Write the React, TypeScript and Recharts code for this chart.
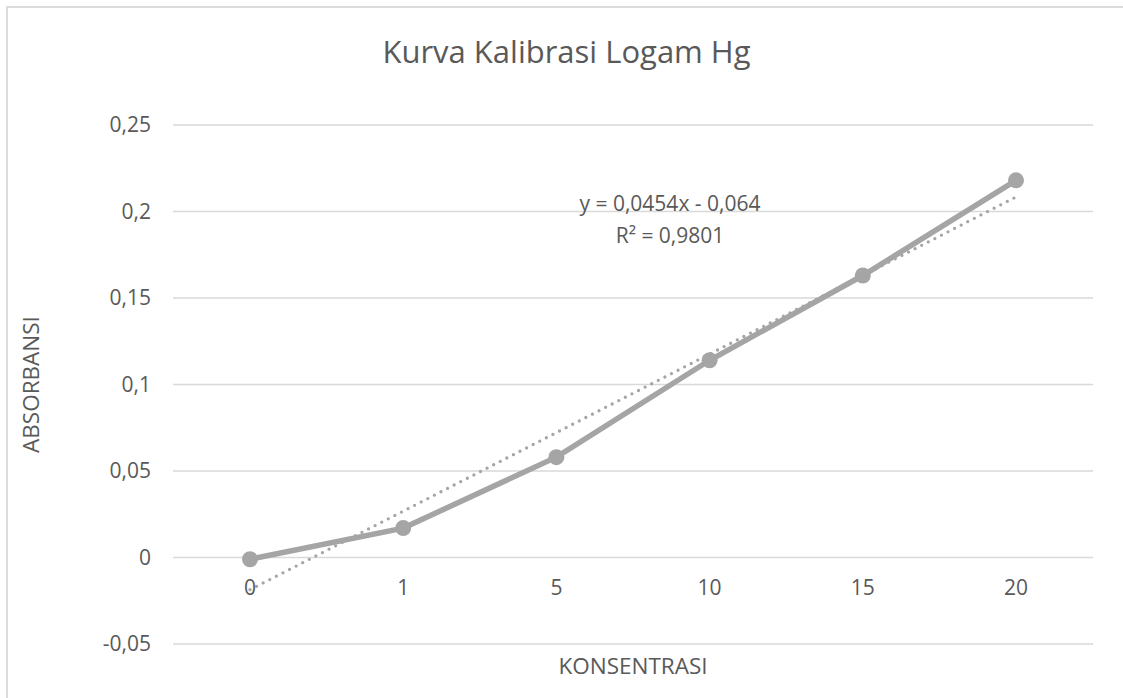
import React from "react";
import { ComposedChart, Line, XAxis, YAxis, CartesianGrid, Label } from "recharts";

const concentrations = ["0", "1", "5", "10", "15", "20"];
const absorbance = [-0.001, 0.017, 0.058, 0.114, 0.163, 0.218];
// linear trendline y = 0,0454x - 0,064 read at each category
const trendline = [-0.0186, 0.0268, 0.0722, 0.1176, 0.163, 0.2084];
const yTicks = [-0.05, 0, 0.05, 0.1, 0.15, 0.2, 0.25];

const data = concentrations.map((c, i) => ({ c, abs: absorbance[i], trend: trendline[i] }));

const FONT = "'Open Sans', sans-serif";
const TEXT = "#595959";
const GREY = "#a5a5a5";

const fmt = (v: number) => String(v).replace(".", ",");

function CategoryTick({ x, y, payload }: { x?: number; y?: number; payload?: { value: string } }) {
  // Excel draws the category labels next to the zero line, not at the bottom
  return (
    <text x={x} y={(y ?? 0) - 63} textAnchor="middle" dominantBaseline="middle" fill={TEXT} fontSize={21} fontFamily={FONT}>
      {payload?.value}
    </text>
  );
}

export default function App() {
  return (
    <div style={{ position: "absolute", left: 0, top: 0, width: 1123, height: 698, overflow: "hidden", background: "#fff", fontFamily: FONT }}>
      <div style={{ position: "absolute", left: 6, top: 6, right: 0, bottom: 0, borderTop: "2px solid #dcdcdc", borderLeft: "2px solid #dcdcdc" }} />
      <div style={{ position: "absolute", left: 10, width: 1113, top: 31, textAlign: "center", fontSize: 31, color: TEXT, lineHeight: "40px" }}>
        Kurva Kalibrasi Logam Hg
      </div>
      <ComposedChart width={1123} height={698} data={data} margin={{ top: 125, right: 30, bottom: 0, left: 8 }}>
        <CartesianGrid vertical={false} stroke="#d9d9d9" strokeWidth={1.5} />
        <XAxis dataKey="c" type="category" axisLine={false} tickLine={false} height={54} padding={{ left: 77, right: 77 }} tick={<CategoryTick />}>
          <Label value="KONSENTRASI" position="insideBottom" offset={24} fill={TEXT} fontSize={22.5} fontFamily={FONT} />
        </XAxis>
        <YAxis
          domain={[-0.05, 0.25]}
          ticks={yTicks}
          width={165}
          axisLine={false}
          tickLine={false}
          tickSize={0}
          tickMargin={22}
          tickFormatter={fmt}
          tick={{ fill: TEXT, fontSize: 21, fontFamily: FONT }}
        >
          <Label value="ABSORBANSI" angle={-90} position="insideLeft" offset={23} fill={TEXT} fontSize={22.5} fontFamily={FONT} style={{ textAnchor: "middle" }} />
        </YAxis>
        <Line dataKey="abs" type="linear" stroke={GREY} strokeWidth={5.5} dot={{ r: 8, fill: GREY, stroke: "none" }} activeDot={false} isAnimationActive={false} />
        <Line dataKey="trend" type="linear" stroke={GREY} strokeWidth={3.3} strokeDasharray="0 7.4" strokeLinecap="round" dot={false} activeDot={false} isAnimationActive={false} />
      </ComposedChart>
      <div style={{ position: "absolute", left: 570, width: 200, top: 188, textAlign: "center", fontSize: 21, color: TEXT, lineHeight: "31.6px" }}>
        y = 0,0454x - 0,064
        <br />
        R² = 0,9801
      </div>
    </div>
  );
}
